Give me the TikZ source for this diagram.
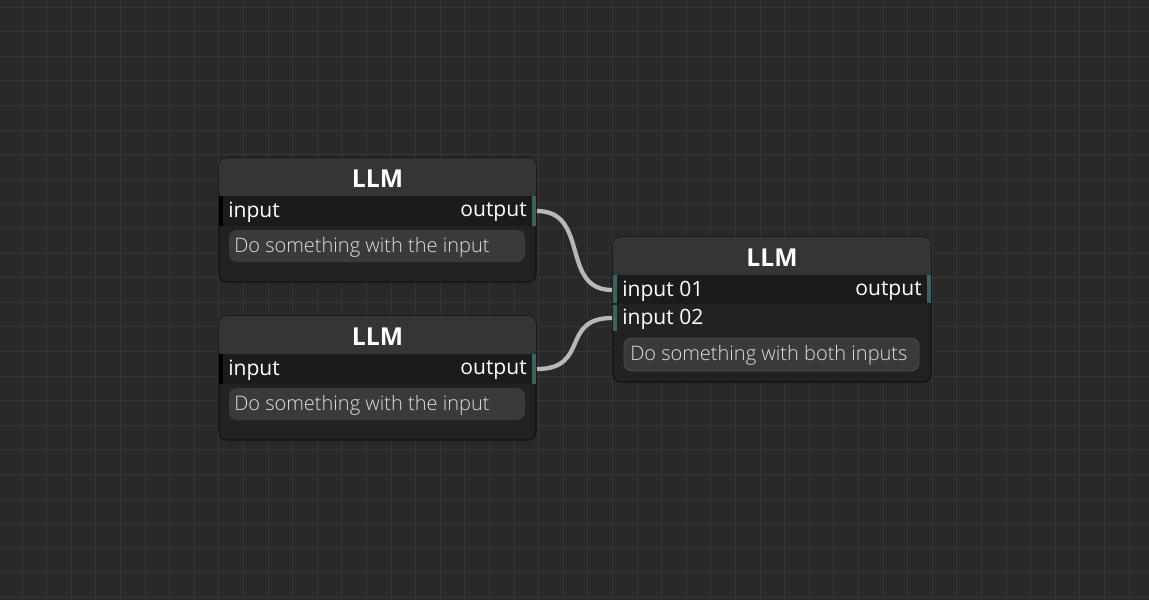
\documentclass[tikz,border=0pt]{standalone}
\usepackage{fontspec}
\setmainfont{Open Sans}
\newfontfamily\lightf{Open Sans Light}
\definecolor{bg}{HTML}{292929}
\definecolor{gridc}{HTML}{353535}
\definecolor{hdr}{HTML}{353535}
\definecolor{bodyc}{HTML}{222222}
\definecolor{rowc}{HTML}{1B1B1B}
\definecolor{fieldc}{HTML}{3A3A3A}
\definecolor{teal}{HTML}{3D6262}
\definecolor{wire}{HTML}{B8B8B8}
\begin{document}
\begin{tikzpicture}[x=0.75pt,y=-0.75pt,
  lbl/.style={text=white,font=\fontsize{15.8}{16}\selectfont,inner sep=0},
  ttl/.style={text=white,font=\bfseries\fontsize{18.5}{18}\selectfont,inner sep=0},
  fld/.style={text=gray!25,font=\lightf\fontsize{15}{15}\selectfont,inner sep=0},
  wirestyle/.style={draw=wire,line width=3.2pt}]
\fill[bg] (0,0) rectangle (1149,600);
\useasboundingbox (0,0) rectangle (1149,600);
\foreach \x in {22,46.6,...,1149} \draw[gridc,line width=0.75pt] (\x,0)--(\x,600);
\foreach \y in {7,31.6,...,600} \draw[gridc,line width=0.75pt] (0,\y)--(1149,\y);
\foreach \oy/\nm in {0/A,158/B}{
  \begin{scope}[yshift=-\oy*0.75pt]
  \fill[bodyc,rounded corners=6pt] (219,158) rectangle (536,282);
  \draw[black!60!bg,rounded corners=6pt,line width=0.8pt] (219,158) rectangle (536,282);
  \fill[hdr,rounded corners=6pt] (219,158) rectangle (536,200);
  \fill[rowc] (219,196) rectangle (536,226);
  \fill[black] (219,196) rectangle (223,226);
  \fill[teal] (532,196) rectangle (536,226);
  \node[ttl] at (377.5,179) {LLM};
  \node[lbl,anchor=west] at (228,212) {input};
  \node[lbl,anchor=east] (out\nm) at (527,212) {output};
  \coordinate (p\nm) at (537,211);
  \fill[fieldc,rounded corners=6pt] (229,230) rectangle (525,262);
  \node[fld,anchor=west] at (234,247) {Do something with the input};
  \end{scope}
}
\fill[bodyc,rounded corners=6pt] (613,237) rectangle (931,382);
\draw[black!60!bg,rounded corners=6pt,line width=0.8pt] (613,237) rectangle (931,382);
\fill[hdr,rounded corners=6pt] (613,237) rectangle (931,279);
\fill[rowc] (613,275) rectangle (931,304);
\fill[teal] (613,275) rectangle (617,303);
\fill[teal] (613,305) rectangle (617,331);
\fill[teal] (927,275) rectangle (931,303);
\node[ttl] at (772,258) {LLM};
\node[lbl,anchor=west] (in1) at (622,291) {input 01};
\node[lbl,anchor=west] (in2) at (622,319) {input 02};
\node[lbl,anchor=east] at (922,291) {output};
\fill[fieldc,rounded corners=6pt] (624,338) rectangle (919,371);
\draw[black!70,rounded corners=6pt,line width=0.6pt] (624,338) rectangle (919,371);
\node[fld,anchor=west] at (630,355) {Do something with both inputs};
\coordinate (q1) at (612,290);
\coordinate (q2) at (612,318);
\draw[wirestyle] (pA) .. controls (590,211) and (560,290) .. (q1);
\draw[wirestyle] (pB) .. controls (590,369) and (560,318) .. (q2);
\end{tikzpicture}
\end{document}
